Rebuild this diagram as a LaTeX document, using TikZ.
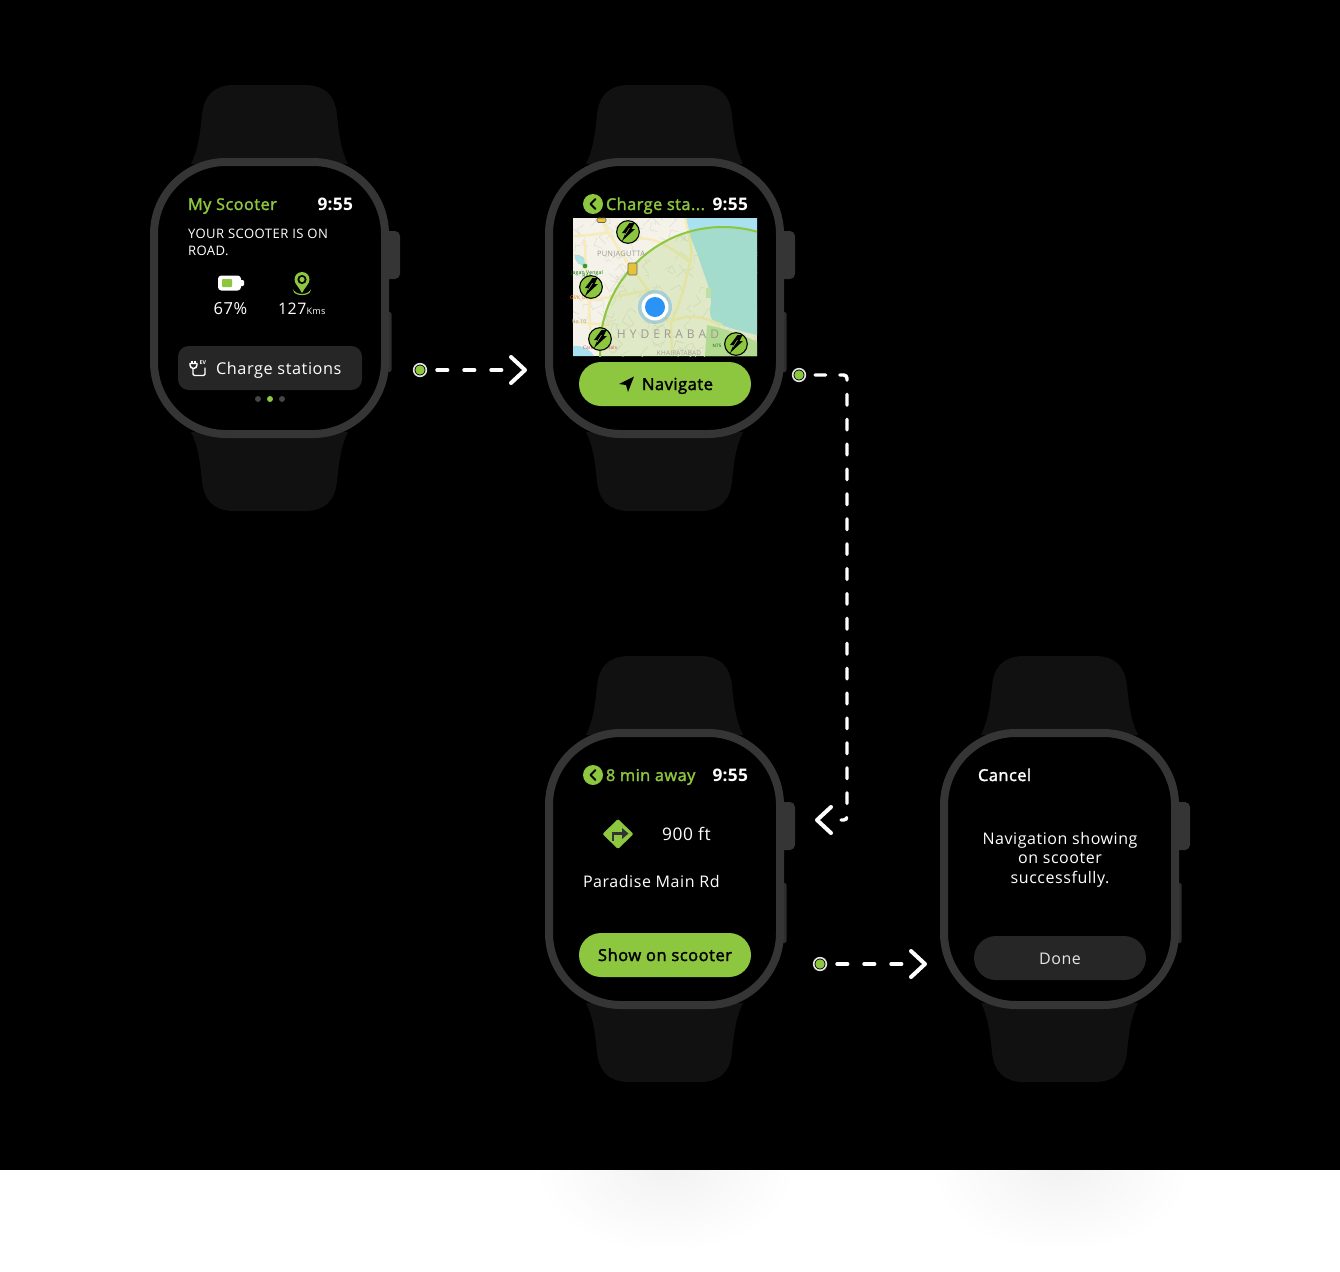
\documentclass[tikz,border=0pt]{standalone}
\usepackage{fontspec}
\setmainfont[LetterSpace=3.5]{Open Sans}
\newfontfamily\medf[LetterSpace=3,FakeBold=2]{Open Sans}
\newfontfamily\spacedf[LetterSpace=1.5]{Open Sans}
\newcommand{\boldf}{\spacedf\bfseries}
\usetikzlibrary{calc}
\definecolor{lime}{HTML}{8DC63F}
\definecolor{bandc}{HTML}{111111}
\definecolor{framec}{HTML}{353535}
\definecolor{btnc}{HTML}{262626}
\definecolor{mapbg}{HTML}{F5F2E9}
\definecolor{mapwater}{HTML}{A9E1F0}
\definecolor{maproad}{HTML}{F6EBB9}
\definecolor{mapline}{HTML}{E2DED1}
\definecolor{maptxt}{HTML}{9A9A90}
\definecolor{mappark}{HTML}{BCDFA6}
\definecolor{mapsign}{HTML}{E6C336}
\definecolor{dotblue}{HTML}{2A93F5}
\tikzset{
  txt/.style={anchor=base west,inner sep=0pt,outer sep=0pt,text=white},
  txtr/.style={anchor=base east,inner sep=0pt,outer sep=0pt,text=white},
  txtc/.style={anchor=base,inner sep=0pt,outer sep=0pt,text=white},
  flow/.style={draw=white,line width=2.6pt,line cap=round,dash pattern=on 8pt off 12.25pt},
  flowlong/.style={draw=white,line width=2.6pt,line cap=round,dash pattern=on 8pt off 10.675pt},
  chev/.style={draw=white,line width=3pt,line cap=round,line join=round},
  startdot/.style={circle,draw=white!90!black,line width=1.2pt,fill=black,minimum size=9.5pt,inner sep=0pt},
  pill/.style={rounded corners=16.5pt},
  maplab/.style={anchor=center,inner sep=0pt,text=maptxt},
  charger/.style={circle,fill=lime,draw=black,line width=0.8pt,minimum size=17pt,inner sep=0pt},
}
\newcommand{\fpx}[1]{\fontsize{#1}{#1}\selectfont}
% watch body: #1 dx, #2 dy
\newcommand{\watchbody}[2]{%
\begin{scope}[shift={(#1,#2)}]
  \fill[bandc] (191,164) .. controls (198,150) and (200,135) .. (202,115)
     .. controls (204,95) and (214,86) .. (232,85) -- (307,85)
     .. controls (325,86) and (335,95) .. (337,115)
     .. controls (339,135) and (341,150) .. (348,164) -- cycle;
  \fill[bandc] (191,432) .. controls (198,446) and (200,461) .. (202,481)
     .. controls (204,501) and (214,510) .. (232,511) -- (307,511)
     .. controls (325,510) and (335,501) .. (337,481)
     .. controls (339,461) and (341,446) .. (348,432) -- cycle;
  \fill[framec,rounded corners=3.8pt] (380,231) rectangle (400,279);
  \fill[btnc!120!black,rounded corners=1.5pt] (380,312) rectangle (391.5,372);
  \draw[framec,fill=black,line width=6pt,rounded corners=54pt] (154,162) rectangle (385,434);
\end{scope}}
% back button
\newcommand{\backbtn}[3]{%
  \node[circle,fill=lime,minimum size=15pt,inner sep=0pt] (#1) at (#2,#3) {};
  \draw[black,line width=1.5pt,line cap=round,line join=round] ($(#1)+(2.5,-5)$) -- ($(#1)+(-2.5,0)$) -- ($(#1)+(2.5,5)$);}
\newcommand{\bolt}[1]{%
  \fill[black] ($(#1)+(1.5,-9)$) -- ($(#1)+(6.5,-9)$) -- ($(#1)+(3.5,-3)$) -- ($(#1)+(7,-3)$) -- ($(#1)+(-6,9)$) -- ($(#1)+(-2.5,1)$) -- ($(#1)+(-6,1)$) -- cycle;
  \draw[lime,line width=0.45pt] ($(#1)+(1.5,-4)$) -- ($(#1)+(-3,3)$);}
\begin{document}
\begin{tikzpicture}[x=0.75pt,y=-0.75pt]
\useasboundingbox (0,0) rectangle (1340,1272);
\fill[white] (0,0) rectangle (1340,1272);
% soft shadows on the white strip
\shade[inner color=black!5,outer color=white] (665,1170) ellipse (130 and 82);
\shade[inner color=black!5,outer color=white] (1060,1170) ellipse (130 and 82);
\fill[black] (0,0) rectangle (1340,1170);

\watchbody{0}{0}
\watchbody{395}{0}
\watchbody{395}{571}
\watchbody{790}{571}

% ---------- screen 1
\node[txt,text=lime,font=\medf\fpx{12.2}] (s1title) at (188,210) {My Scooter};
\node[txtr,font=\boldf\fpx{13}] (s1time) at (353,210) {9:55};
\node[txt,font=\fpx{9.8}] (s1l1) at (188,238) {YOUR SCOOTER IS ON};
\node[txt,font=\fpx{9.8}] (s1l2) at (188,255) {ROAD.};
\fill[white,rounded corners=2.5pt] (218,275.5) rectangle (241,290.5);
\fill[white,rounded corners=0.8pt] (240,280) rectangle (244,286);
\fill[lime,rounded corners=0.6pt] (222,279) rectangle (232,287);
\node[txtc,font=\fpx{12.4}] (s1pct) at (230.5,314) {67\%};
\draw[lime,line width=0.9pt] (302,290.5) ellipse (8 and 4);
\fill[black] (294,286) rectangle (310,290.5);
\fill[lime] (302,293) .. controls (299,287) and (294.5,284) .. (294.5,279.5)
   arc[start angle=180,end angle=360,x radius=7.5,y radius=7.5]
   .. controls (309.5,284) and (305,287) .. (302,293) -- cycle;
\fill[black] (302,279.5) circle[radius=4.6];
\fill[lime] (302,279.5) circle[radius=2.6];
\node[txt,font=\fpx{11.9}] (s1km) at (278,314) {127};
\node[txt,font=\fpx{6.8}] (s1kms) at (306.5,314) {Kms};
\fill[btnc,rounded corners=8pt] (178,346) rectangle (362,390);
\draw[white,line width=1.1pt,rounded corners=1pt] (193,368) -- (193,375.5) -- (205,375.5) -- (205,367.5);
\draw[white,line width=1.1pt] (190,363.5) -- (197,363.5) -- (197,365) arc[start angle=0,end angle=180,radius=3.5] -- cycle;
\draw[white,line width=0.9pt] (192,360.5) -- (192,363) (195,360.5) -- (195,363);
\node[txt,font=\boldf\fpx{4}] (s1ev) at (199.5,364.5) {EV};
\node[txt,font=\fpx{12.2}] (s1btn) at (216,374) {Charge stations};
\node[circle,fill=white!27!black,minimum size=4.5pt,inner sep=0pt] (p1) at (258,399) {};
\node[circle,fill=lime,minimum size=4.5pt,inner sep=0pt] (p2) at (270,399) {};
\node[circle,fill=white!27!black,minimum size=4.5pt,inner sep=0pt] (p3) at (282,399) {};

% ---------- screen 2
\backbtn{s2back}{593}{204}
\node[txt,text=lime,font=\medf\fpx{12.2}] (s2title) at (606,210) {Charge sta...};
\node[txtr,font=\boldf\fpx{13}] (s2time) at (748,210) {9:55};
\begin{scope}
  \clip (573,218) rectangle (757,356);
  \fill[mapbg] (573,218) rectangle (757,356);
  \pgfmathsetseed{4242}
  \foreach \i in {1,...,170}{
    \pgfmathsetmacro{\xa}{573+184*rnd}
    \pgfmathsetmacro{\ya}{218+138*rnd}
    \pgfmathsetmacro{\dxa}{-9+18*rnd}
    \pgfmathsetmacro{\dya}{-9+18*rnd}
    \draw[mapline,line width=0.4pt] (\xa,\ya) -- ++(\dxa,\dya) -- ++(\dya,-\dxa);
  }
  \fill[mapwater] (685,218) .. controls (688,235) and (696,248) .. (700,262)
     .. controls (706,280) and (711,290) .. (711,303)
     .. controls (708,318) and (712,322) .. (722,325)
     .. controls (735,330) and (745,332) .. (757,335) -- (757,218) -- cycle;
  \fill[mapwater] (573,346) -- (573,356) -- (594,356) .. controls (590,349) and (582,345) .. (573,346) -- cycle;
  \fill[mapwater,draw=mappark,line width=0.6pt] (575,255) .. controls (580,254) and (588,260) .. (587,265) .. controls (580,266) and (575,262) .. (575,255) -- cycle;
  \fill[mappark] (707,325) .. controls (722,328) and (745,335) .. (757,342) -- (757,356) -- (705,356) -- cycle;
  \draw[maproad,line width=1.8pt]
    (573,236) .. controls (590,236) and (605,232) .. (612,233)
    (600,218) .. controls (610,235) and (622,255) .. (632,268) -- (655,300) -- (668,322)
    (632,240) .. controls (650,235) and (665,243) .. (690,262)
    (690,262) .. controls (685,285) and (680,305) .. (671,322) -- (672,356)
    (671,322) .. controls (690,312) and (705,318) .. (722,325)
    (585,240) .. controls (585,270) and (590,300) .. (590,330)
    (573,322) -- (610,325)
    (590,300) -- (618,296) -- (650,290)
    (685,218) .. controls (690,240) and (693,250) .. (690,262);
  \fill[lime,opacity=0.2] (723,350) circle[radius=123];
  \draw[lime,line width=1.5pt] (723,350) circle[radius=123];
  \fill[mappark] (706,288) rectangle (711,298);
\end{scope}
\node[maplab,font=\fpx{5.6}] (mapa) at (621,254) {PUNJAGUTTA};
\node[maplab,font=\fpx{9},text=maptxt] (mapb) at (668,334) {H\,\,Y\,\,D\,\,E\,\,R\,\,A\,\,B\,\,A\,\,D};
\node[maplab,font=\fpx{4.8}] (mapc) at (679,353) {KHAIRATABAD};
\node[circle,fill=green!50!black!80,minimum size=3.5pt,inner sep=0pt] (mapp) at (585,266) {};
\node[maplab,font=\fpx{3.8},text=green!45!black,align=center] (mapd) at (587,274) {Jagan Vengal\\[-1pt]Rao};
\node[maplab,font=\fpx{3.8},text=orange] (mape) at (581,298) {GVK One};
\node[maplab,font=\fpx{3.8}] (mapf) at (579,322) {No 10};
\node[maplab,font=\fpx{3.6},text=red!50!maptxt] (maph) at (600,348) {Care Hospitals};
\node[maplab,font=\fpx{3.4},text=green!40!black] (mapg) at (717,346) {N75};
\fill[mapsign,draw=black!60,line width=0.4pt,rounded corners=1pt] (628,263) rectangle (637,275);
\fill[mapsign,draw=black!60,line width=0.4pt,rounded corners=1pt] (597,218) rectangle (606,222.5);
\fill[dotblue,opacity=0.3] (655,307) circle[radius=17];
\fill[white] (655,307) circle[radius=13.5];
\fill[dotblue] (655,307) circle[radius=10];
\node[charger] (c1) at (628,232) {}; \bolt{c1}
\node[charger] (c2) at (591,287) {}; \bolt{c2}
\node[charger] (c3) at (600,339) {}; \bolt{c3}
\node[charger] (c4) at (736,344) {}; \bolt{c4}
\fill[lime,pill] (579,362) rectangle (751,406);
\fill[black] (634,376.5) -- (619,384) -- (626,385) -- (628,392) -- cycle;
\node[txt,text=black,font=\medf\fpx{12.4}] (s2btn) at (642,390) {Navigate};

% ---------- screen 3
\backbtn{s3back}{593}{775}
\node[txt,text=lime,font=\medf\fpx{12.2}] (s3title) at (606,781) {8 min away};
\node[txtr,font=\boldf\fpx{13}] (s3time) at (748,781) {9:55};
\fill[lime,rounded corners=1pt] (618,819) -- (633.5,834) -- (618,849) -- (602.5,834) -- cycle;
\draw[black!80,line width=1.8pt] (613,840.5) -- (613,833.5) -- (624,833.5);
\fill[black!80] (622,828) -- (628.5,833.5) -- (622,839) -- cycle;
\node[txt,font=\fpx{13}] (s3dist) at (662,840) {900 ft};
\node[txt,font=\fpx{12}] (s3road) at (583,887) {Paradise Main Rd};
\fill[lime,pill] (579,933) rectangle (751,977);
\node[txtc,text=black,font=\medf\fpx{12.4}] (s3btn) at (665,961) {Show on scooter};

% ---------- screen 4
\node[txt,font=\medf\fpx{12.3}] (s4cancel) at (978,781) {Cancel};
\node[txtc,font=\fpx{12}] (s4a) at (1060,844) {Navigation showing};
\node[txtc,font=\fpx{12}] (s4b) at (1060,863) {on scooter};
\node[txtc,font=\fpx{12}] (s4c) at (1060,883) {successfully.};
\fill[btnc,pill] (974,936) rectangle (1146,980);
\node[txtc,text=white!90!black,font=\fpx{12}] (s4btn) at (1060,964) {Done};

% ---------- connectors
\node[startdot] (d1) at (420,370) {};
\fill[lime] (d1) circle[radius=4.7];
\coordinate (a1) at (525,370);
\draw[flow,shorten <=12.75pt,shorten >=11.25pt] (d1.center) -- (a1);
\draw[chev] (a1) ++(-14,-13) -- (a1) -- ++(-14,13);

\node[startdot] (d2) at (799,375) {};
\fill[lime] (d2) circle[radius=4.7];
\coordinate (a2) at (817,820);
\coordinate (a2c1) at (847,375);
\coordinate (a2c2) at (847,820);
\draw[flowlong,shorten <=12pt,shorten >=18pt,rounded corners=2.5pt] (d2.center) -- (a2c1) -- (a2c2) -- (a2);
\draw[chev] (a2) ++(14,-13) -- (a2) -- ++(14,13);

\node[startdot] (d3) at (820,964) {};
\fill[lime] (d3) circle[radius=4.7];
\coordinate (a3) at (925,964);
\draw[flow,shorten <=12.75pt,shorten >=11.25pt] (d3.center) -- (a3);
\draw[chev] (a3) ++(-14,-13) -- (a3) -- ++(-14,13);
\end{tikzpicture}
\end{document}
